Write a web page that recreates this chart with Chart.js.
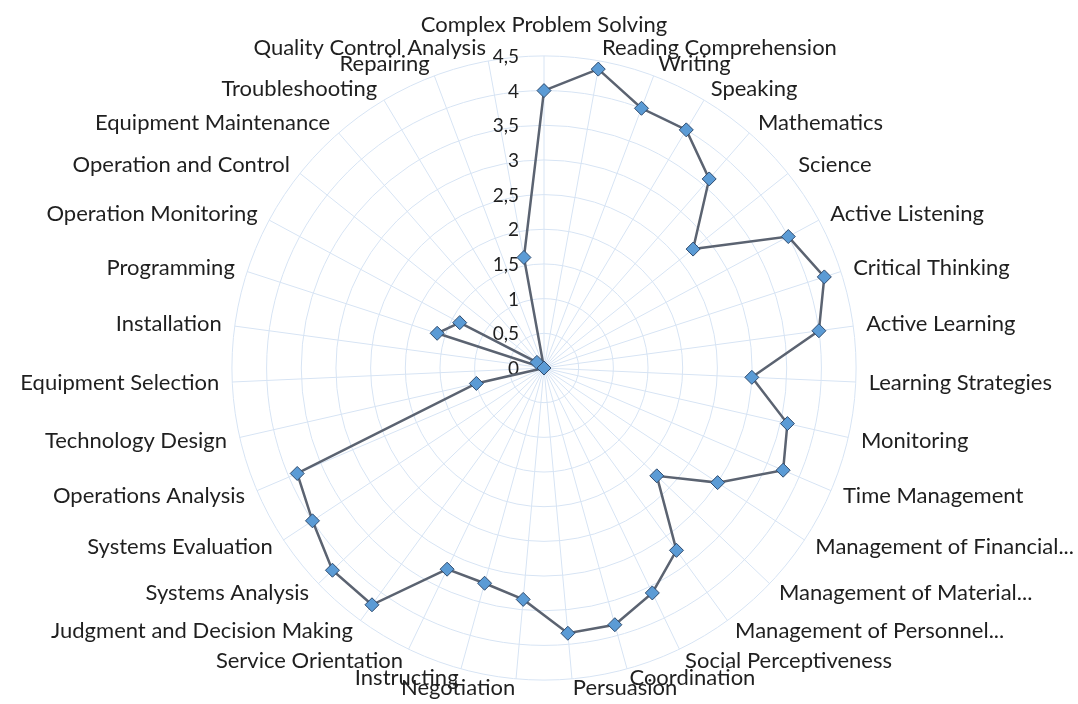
<!DOCTYPE html>
<html>
<head>
<meta charset="utf-8">
<script src="https://cdn.jsdelivr.net/npm/chart.js@4.4.1/dist/chart.umd.min.js"></script>
<style>
  html, body { margin: 0; padding: 0; background: #ffffff; }
  #wrap { width: 1078px; height: 704px; position: relative; }
</style>
</head>
<body>
<div id="wrap"><canvas id="skillsChart"></canvas></div>
<script>
const skills = [
    "Complex Problem Solving", "Reading Comprehension", "Writing", "Speaking",
    "Mathematics", "Science", "Active Listening", "Critical Thinking",
    "Active Learning", "Learning Strategies", "Monitoring", "Time Management",
    "Management of Financial...", "Management of Material...", "Management of Personnel...",
    "Social Perceptiveness", "Coordination", "Persuasion", "Negotiation", "Instructing",
    "Service Orientation", "Judgment and Decision Making", "Systems Analysis",
    "Systems Evaluation", "Operations Analysis", "Technology Design",
    "Equipment Selection", "Installation", "Programming", "Operation Monitoring",
    "Operation and Control", "Equipment Maintenance", "Troubleshooting", "Repairing",
    "Quality Control Analysis"
];
const importance = [
    4.0, 4.38, 4.0, 4.0, 3.62, 2.75, 4.0, 4.25, 4.0, 3.0,
    3.6, 3.75, 3.0, 2.25, 3.25, 3.6, 3.84, 3.84, 3.35, 3.22,
    3.22, 4.22, 4.22, 4.0, 3.87, 1.0, 0, 0, 1.62, 1.38,
    0.13, 0, 0, 0, 1.62
];
const tickLabels = ["0", "0,5", "1", "1,5", "2", "2,5", "3", "3,5", "4", "4,5"];

// value axis labels sit left of the vertical axis, like the spreadsheet chart
const tickLabelPlugin = {
    id: 'tickLabels',
    beforeDatasetsDraw(chart) {
        const scale = chart.scales.r;
        const ctx = chart.ctx;
        ctx.save();
        ctx.font = '19px Lato';
        ctx.fillStyle = '#1f1f1f';
        ctx.textAlign = 'right';
        ctx.textBaseline = 'middle';
        scale.ticks.forEach(function(t, i) {
            const d = scale.getDistanceFromCenterForValue(t.value);
            ctx.fillText(tickLabels[i], scale.xCenter - 25, scale.yCenter - d + 1);
        });
        ctx.restore();
    }
};

const ctx = document.getElementById('skillsChart').getContext('2d');
const skillsChart = new Chart(ctx, {
    type: 'radar',
    data: {
        labels: skills,
        datasets: [{
            label: 'Importance',
            data: importance,
            fill: false,
            borderColor: '#5b6371',
            borderWidth: 2.5,
            pointStyle: 'rectRot',
            pointRadius: 7,
            pointHoverRadius: 7,
            pointBackgroundColor: '#5b9bd5',
            pointBorderColor: '#2f4b6e',
            pointBorderWidth: 1
        }]
    },
    options: {
        responsive: true,
        maintainAspectRatio: false,
        animation: false,
        layout: { padding: { top: 11, bottom: 1, left: 18, right: 0 } },
        plugins: {
            legend: { display: false },
            tooltip: { enabled: false }
        },
        scales: {
            r: {
                min: 0,
                max: 4.5,
                ticks: { stepSize: 0.5, display: false },
                grid: { circular: true, color: '#d7e4f4', lineWidth: 1 },
                angleLines: { color: '#d7e4f4', lineWidth: 1 },
                pointLabels: {
                    color: '#1f1f1f',
                    font: { family: 'Lato', size: 22, lineHeight: 0.01 },
                    padding: function(c) {
                        if (c.index === 0) return 31;
                        if (c.index >= 16 && c.index <= 19) return 9;
                        return 13;
                    }
                }
            }
        }
    },
    plugins: [tickLabelPlugin]
});
</script>
</body>
</html>
